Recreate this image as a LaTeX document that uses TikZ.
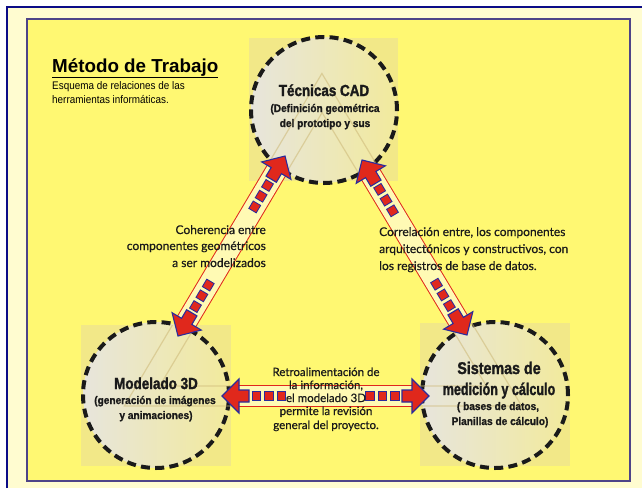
\documentclass[tikz,border=0pt]{standalone}
\usepackage{fontspec}
\setmainfont{Liberation Sans}
\newfontfamily\headf[FakeStretch=0.84, BoldFeatures={FakeBold=1.6}]{Liberation Sans}
\newfontfamily\headg[FakeStretch=0.74, BoldFeatures={FakeBold=1.6}]{Liberation Sans}
\newfontfamily\subf[FakeStretch=0.92, BoldFeatures={FakeBold=1.2}]{Liberation Sans}
\newfontfamily\narf[FakeStretch=0.9]{Liberation Sans}
\newfontfamily\handf[FakeBold=0.6]{Lato}
\usetikzlibrary{calc}
\definecolor{navyb}{HTML}{0C0C86}
\definecolor{creamc}{HTML}{FFFCD0}
\definecolor{yelc}{HTML}{FFF872}
\definecolor{framec}{HTML}{4E4488}
\definecolor{sqc}{HTML}{F2E888}
\definecolor{cirl}{HTML}{E7E5DC}
\definecolor{cirr}{HTML}{F2EA9C}
\definecolor{arrred}{HTML}{E0281C}
\definecolor{arrblue}{HTML}{2B2B9C}
\definecolor{bandc}{HTML}{FFFAB4}
\definecolor{faintc}{HTML}{CDB877}
\definecolor{inkc}{HTML}{1A1A1A}
\tikzset{
 circ/.style={circle, minimum size=146pt, inner sep=0pt, left color=cirl, right color=cirr, draw=inkc, line width=4pt, dash pattern=on 9pt off 5.3pt},
 headsty/.style={fill=arrred, draw=arrblue, line width=1.1pt, line join=miter},
 hd/.style={font=\headf\bfseries\fontsize{16}{18}\selectfont, inner sep=0pt, anchor=base, text=inkc},
 sb/.style={font=\subf\bfseries\fontsize{11}{13}\selectfont, inner sep=0pt, anchor=base, text=inkc},
 hw/.style={font=\handf\fontsize{12}{14}\selectfont, inner sep=0pt, text=inkc},
 bw/.style={hw, anchor=base, font=\handf\fontsize{11.5}{13}\selectfont},
 faint/.style={draw=faintc, opacity=0.55, line width=1.2pt, line join=miter},
}
\newcommand\mkhead[3]{%
  \coordinate (#1b) at ($(#2)!17pt!(#3)$);
  \coordinate (#1s) at ($(#2)!27pt!(#3)$);
  \filldraw[headsty] (#2) -- ($(#1b)!17pt!90:(#2)$) -- ($(#1b)!6pt!90:(#2)$) -- ($(#1s)!6pt!90:(#2)$) -- ($(#1s)!6pt!-90:(#2)$) -- ($(#1b)!6pt!-90:(#2)$) -- ($(#1b)!17pt!-90:(#2)$) -- cycle;
}
\newcommand\sqrow[2]{%
  \draw[arrblue, line width=9.5pt, dash pattern=on 9.5pt off 3pt] (#1) -- (#2);
  \draw[arrred, line width=7.5pt, dash pattern=on 7.5pt off 5pt, dash phase=11.5pt] (#1) -- (#2);
}
\newcommand\dblarrow[3]{%
  \coordinate (#1p) at ($(#2)!17pt!(#3)$);
  \coordinate (#1q) at ($(#3)!17pt!(#2)$);
  \draw[arrred, line width=22pt] (#1p) -- (#1q);
  \draw[bandc, line width=20pt] (#1p) -- (#1q);
  \sqrow{$(#2)!29.5pt!(#3)$}{$(#2)!64pt!(#3)$}
  \sqrow{$(#3)!29.5pt!(#2)$}{$(#3)!64pt!(#2)$}
  \mkhead{#1a}{#2}{#3}
  \mkhead{#1c}{#3}{#2}
}
\begin{document}
\begin{tikzpicture}[x=1pt,y=-1pt]
\useasboundingbox (0,0) rectangle (642,488);
\fill[white] (0,0) rectangle (642,488);
\fill[creamc] (7,7) rectangle (642,488);
\draw[navyb, line width=2.6pt] (7,488) -- (7,7) -- (642,7);
\filldraw[fill=yelc, draw=framec, line width=1.2pt] (27,19) rectangle (630,481);
% square backgrounds
\fill[sqc] (249,38) rectangle (398,181);
\fill[sqc] (81,325) rectangle (231,466);
\fill[sqc] (420,323) rectangle (570,466);
% circles
\node[circ] (cad) at (324,110) {};
\node[circ] (mod) at (156,395) {};
\node[circ] (sis) at (495,395) {};
% arrow tips
\coordinate (T1) at ($(cad.center)+(-39,46)$);
\coordinate (T2) at ($(mod.center)+(22,-59)$);
\coordinate (T3) at ($(cad.center)+(38,50)$);
\coordinate (T4) at ($(sis.center)+(-28,-60)$);
\coordinate (T5) at ($(mod.center)+(66,1)$);
\coordinate (T6) at ($(sis.center)+(-66,1)$);
% faint background triangle (band edges)
\coordinate (TA) at (322,93);
\coordinate (TB) at (142,396);
\coordinate (TC) at (504,396);
\coordinate (TI) at (323,293.4);
\begin{scope}
\clip (249,38) rectangle (398,181) (81,325) rectangle (231,466) (420,323) rectangle (570,466);
\draw[faint] ($(TI)!1.0975!(TA)$) -- ($(TI)!1.0975!(TB)$) -- ($(TI)!1.0975!(TC)$) -- cycle;
\draw[faint] ($(TI)!0.9025!(TA)$) -- ($(TI)!0.9025!(TB)$) -- ($(TI)!0.9025!(TC)$) -- cycle;
\end{scope}
% circle texts
\node[hd] (cadh) at (324,96) {Técnicas CAD};
\node[sb] (cads1) at (325,112) {(Definición geométrica};
\node[sb] (cads2) at (325,127) {del prototipo y sus};
\node[hd] (modh) at (156,389) {Modelado 3D};
\node[sb] (mods1) at (155,404) {(generación de imágenes};
\node[sb] (mods2) at (156,419) {y animaciones)};
\node[hd, font=\headf\bfseries\fontsize{17}{19}\selectfont] (sish1) at (499,374) {Sistemas de};
\node[hd, font=\headg\bfseries\fontsize{17}{19}\selectfont] (sish2) at (499,395) {medición y cálculo};
\node[sb] (siss1) at (498,410) {( bases de datos,};
\node[sb] (siss2) at (500,425) {Planillas de cálculo)};
% arrows
\dblarrow{la}{T1}{T2}
\dblarrow{ra}{T3}{T4}
\dblarrow{ha}{T5}{T6}
% connector texts
\node[hw, anchor=base east] (l1) at (266,234) {Coherencia entre};
\node[hw, anchor=base east] (l2) at (266,250) {componentes geométricos};
\node[hw, anchor=base east] (l3) at (266,267) {a ser modelizados};
\node[hw, anchor=base west] (r1) at (379,236) {Correlación entre, los componentes};
\node[hw, anchor=base west] (r2) at (379,253) {arquitectónicos y constructivos, con};
\node[hw, anchor=base west] (r3) at (379,270) {los registros de base de datos.};
\node[bw] (b1) at (326,376) {Retroalimentación de};
\node[bw] (b2) at (326,389) {la información,};
\node[bw] (b3) at (326,402) {el modelado 3D};
\node[bw] (b4) at (326,415) {permite la revisión};
\node[bw] (b5) at (326,429) {general del proyecto.};
% title
\node[anchor=base west, inner sep=0pt, font=\bfseries\fontsize{18.8}{21}\selectfont] (title) at (52,72) {\underline{Método de Trabajo}};
\node[anchor=base west, inner sep=0pt, font=\narf\fontsize{11}{13}\selectfont] (st1) at (52,89) {Esquema de relaciones de las};
\node[anchor=base west, inner sep=0pt, font=\narf\fontsize{11}{13}\selectfont] (st2) at (52,103) {herramientas informáticas.};
\end{tikzpicture}
\end{document}
